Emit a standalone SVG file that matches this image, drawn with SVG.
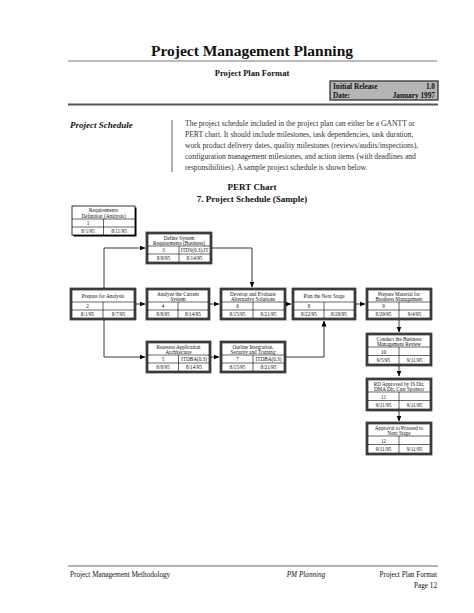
<svg xmlns="http://www.w3.org/2000/svg" width="474" height="613" viewBox="0 0 474 613">
<style>
text{font-family:"Liberation Serif","Times New Roman",serif;fill:#111}
.t{font-size:5.2px;text-anchor:middle}
.fo{fill:#555;stroke:#000;stroke-width:.6}
.fi{fill:#fff;stroke:#000;stroke-width:.6}
.ln{stroke:#000;stroke-width:.6}
.cn{fill:none;stroke:#222;stroke-width:.9}
.bd{font-size:7.6px;fill:#333}
</style>
<defs>
<marker id="ar" markerUnits="userSpaceOnUse" markerWidth="6" markerHeight="6" viewBox="0 0 6 6" refX="5.5" refY="3" orient="auto">
<path d="M0,0.5 L6,3 L0,5.5 Z" fill="#000"/>
</marker>
</defs>
<rect width="474" height="613" fill="#fff"/>
<g id="header">
<text x="252" y="56" font-size="15.5" font-weight="bold" text-anchor="middle">Project Management Planning</text>
<line x1="68" y1="61" x2="437" y2="61" stroke="#777" stroke-width="1"/>
<text x="252" y="76" font-size="8.5" font-weight="bold" text-anchor="middle">Project Plan Format</text>
<rect x="330" y="81" width="108" height="19" fill="#b5b5b5" stroke="#333" stroke-width="1.3"/>
<text x="333" y="89" font-size="7.3" font-weight="bold">Initial Release</text>
<text x="435" y="89" font-size="7.3" font-weight="bold" text-anchor="end">1.0</text>
<text x="333" y="98" font-size="7.3" font-weight="bold">Date:</text>
<text x="435" y="98" font-size="7.3" font-weight="bold" text-anchor="end">January 1997</text>
<line x1="68" y1="104.5" x2="438" y2="104.5" stroke="#555" stroke-width="2"/>
</g>
<g id="intro">
<text x="70" y="128" font-size="9" font-weight="bold" font-style="italic">Project Schedule</text>
<line x1="172" y1="120" x2="172" y2="172" stroke="#666" stroke-width="1"/>
<text class="bd" x="185" y="126">The project schedule included in the project plan can either be a GANTT or</text>
<text class="bd" x="185" y="137">PERT chart.  It should include milestones, task dependencies, task duration,</text>
<text class="bd" x="185" y="148">work product delivery dates, quality milestones (reviews/audits/inspections),</text>
<text class="bd" x="185" y="159">configuration management milestones, and action items (with deadlines and</text>
<text class="bd" x="185" y="170">responsibilities).  A sample project schedule is shown below.</text>
<text x="252" y="190" font-size="9" font-weight="bold" text-anchor="middle">PERT Chart</text>
<text x="252" y="202" font-size="9" font-weight="bold" text-anchor="middle">7. Project Schedule (Sample)</text>
</g>
<g id="connectors">
<path class="cn" d="M104,248 V357"/>
<path class="cn" d="M104,248 H145" marker-end="url(#ar)"/>
<path class="cn" d="M104,357 H145" marker-end="url(#ar)"/>
<path class="cn" d="M212,248 H252 V287" marker-end="url(#ar)"/>
<path class="cn" d="M136,304 H145" marker-end="url(#ar)"/>
<path class="cn" d="M210,304 H219" marker-end="url(#ar)"/>
<path class="cn" d="M286,304 H291" marker-end="url(#ar)"/>
<path class="cn" d="M356,304 H365" marker-end="url(#ar)"/>
<path class="cn" d="M399,320 V332" marker-end="url(#ar)"/>
<path class="cn" d="M211,357 H219" marker-end="url(#ar)"/>
<path class="cn" d="M286,357 H324 V321" marker-end="url(#ar)"/>
<path class="cn" d="M399,366 V376" marker-end="url(#ar)"/>
<path class="cn" d="M399,411 V421" marker-end="url(#ar)"/>
</g>
<g id="n1">
<rect x="73.5" y="207.5" width="63" height="29" fill="#000"/>
<rect x="72" y="206" width="63" height="29" fill="#fff" stroke="#000" stroke-width=".8"/>
<line class="ln" x1="72" y1="219" x2="135" y2="219"/>
<line class="ln" x1="72" y1="227" x2="135" y2="227"/>
<line class="ln" x1="103.5" y1="219" x2="103.5" y2="235"/>
<text class="t" x="103.5" y="212">Requirements</text>
<text class="t" x="103.5" y="217.5">Definition (Analysis)</text>
<text class="t" x="88" y="225">1</text>
<text class="t" x="88" y="233">8/1/95</text>
<text class="t" x="119" y="233">8/11/95</text>
</g>
<g id="n3">
<rect class="fo" x="146" y="232" width="66" height="32"/>
<rect class="fi" x="148" y="234" width="62" height="28"/>
<line class="ln" x1="148" y1="246" x2="210" y2="246"/>
<line class="ln" x1="148" y1="254" x2="210" y2="254"/>
<line class="ln" x1="179" y1="246" x2="179" y2="262"/>
<text class="t" x="179" y="239.5">Define System</text>
<text class="t" x="179" y="244.8">Requirements (Business)</text>
<text class="t" x="163.5" y="252">3</text>
<text class="t" x="194.5" y="252">ITDS(0.3),IT</text>
<text class="t" x="163.5" y="260">8/8/95</text>
<text class="t" x="194.5" y="260">8/14/95</text>
</g>
<g id="n2">
<rect class="fo" x="70" y="288" width="66" height="32"/>
<rect class="fi" x="72" y="290" width="62" height="28"/>
<line class="ln" x1="72" y1="302" x2="134" y2="302"/>
<line class="ln" x1="72" y1="310" x2="134" y2="310"/>
<line class="ln" x1="103" y1="302" x2="103" y2="318"/>
<text class="t" x="103" y="298">Prepare for Analysis</text>
<text class="t" x="87.5" y="308">2</text>
<text class="t" x="87.5" y="316">8/1/95</text>
<text class="t" x="118.5" y="316">8/7/95</text>
</g>
<g id="n4">
<rect class="fo" x="146" y="288" width="64" height="32"/>
<rect class="fi" x="148" y="290" width="60" height="28"/>
<line class="ln" x1="148" y1="302" x2="208" y2="302"/>
<line class="ln" x1="148" y1="310" x2="208" y2="310"/>
<line class="ln" x1="178" y1="302" x2="178" y2="318"/>
<text class="t" x="178" y="295.5">Analyze the Current</text>
<text class="t" x="178" y="300.8">System</text>
<text class="t" x="163" y="308">4</text>
<text class="t" x="163" y="316">8/8/95</text>
<text class="t" x="193" y="316">8/14/95</text>
</g>
<g id="n6">
<rect class="fo" x="220" y="288" width="66" height="32"/>
<rect class="fi" x="222" y="290" width="62" height="28"/>
<line class="ln" x1="222" y1="302" x2="284" y2="302"/>
<line class="ln" x1="222" y1="310" x2="284" y2="310"/>
<line class="ln" x1="253" y1="302" x2="253" y2="318"/>
<text class="t" x="253" y="295.5">Develop and Evaluate</text>
<text class="t" x="253" y="300.8">Alternative Solutions</text>
<text class="t" x="237.5" y="308">6</text>
<text class="t" x="237.5" y="316">8/15/95</text>
<text class="t" x="268.5" y="316">8/21/95</text>
</g>
<g id="n8">
<rect class="fo" x="292" y="288" width="64" height="32"/>
<rect class="fi" x="294" y="290" width="60" height="28"/>
<line class="ln" x1="294" y1="302" x2="354" y2="302"/>
<line class="ln" x1="294" y1="310" x2="354" y2="310"/>
<line class="ln" x1="324" y1="302" x2="324" y2="318"/>
<text class="t" x="324" y="298">Plan the Next Stage</text>
<text class="t" x="309" y="308">8</text>
<text class="t" x="309" y="316">8/22/95</text>
<text class="t" x="339" y="316">8/28/95</text>
</g>
<g id="n9">
<rect class="fo" x="366" y="288" width="66" height="32"/>
<rect class="fi" x="368" y="290" width="62" height="28"/>
<line class="ln" x1="368" y1="302" x2="430" y2="302"/>
<line class="ln" x1="368" y1="310" x2="430" y2="310"/>
<line class="ln" x1="399" y1="302" x2="399" y2="318"/>
<text class="t" x="399" y="295.5">Prepare Material for</text>
<text class="t" x="399" y="300.8">Business Management</text>
<text class="t" x="383.5" y="308">9</text>
<text class="t" x="383.5" y="316">8/29/95</text>
<text class="t" x="414.5" y="316">9/4/95</text>
</g>
<g id="n5">
<rect class="fo" x="146" y="341" width="65" height="32"/>
<rect class="fi" x="148" y="343" width="61" height="28"/>
<line class="ln" x1="148" y1="355" x2="209" y2="355"/>
<line class="ln" x1="148" y1="363" x2="209" y2="363"/>
<line class="ln" x1="178.5" y1="355" x2="178.5" y2="371"/>
<text class="t" x="178.5" y="348.5">Reassess Application</text>
<text class="t" x="178.5" y="353.8">Architecture</text>
<text class="t" x="163" y="361">5</text>
<text class="t" x="194" y="361">ITDBA(0.3)</text>
<text class="t" x="163" y="369">8/8/95</text>
<text class="t" x="194" y="369">8/14/95</text>
</g>
<g id="n7">
<rect class="fo" x="220" y="341" width="66" height="32"/>
<rect class="fi" x="222" y="343" width="62" height="28"/>
<line class="ln" x1="222" y1="355" x2="284" y2="355"/>
<line class="ln" x1="222" y1="363" x2="284" y2="363"/>
<line class="ln" x1="253" y1="355" x2="253" y2="371"/>
<text class="t" x="253" y="348.5">Outline Integration,</text>
<text class="t" x="253" y="353.8">Security and Training</text>
<text class="t" x="237.5" y="361">7</text>
<text class="t" x="268.5" y="361">ITDBA(0.3)</text>
<text class="t" x="237.5" y="369">8/15/95</text>
<text class="t" x="268.5" y="369">8/21/95</text>
</g>
<g id="n10">
<rect class="fo" x="366" y="333" width="66" height="33"/>
<rect class="fi" x="368" y="335" width="62" height="29"/>
<line class="ln" x1="368" y1="347" x2="430" y2="347"/>
<line class="ln" x1="368" y1="355.5" x2="430" y2="355.5"/>
<line class="ln" x1="399" y1="347" x2="399" y2="364"/>
<text class="t" x="399" y="340.5">Conduct the Business</text>
<text class="t" x="399" y="345.8">Management Review</text>
<text class="t" x="383.5" y="353.5">10</text>
<text class="t" x="383.5" y="362">9/5/95</text>
<text class="t" x="414.5" y="362">9/11/95</text>
</g>
<g id="n11">
<rect class="fo" x="366" y="378" width="66" height="33"/>
<rect class="fi" x="368" y="380" width="62" height="29"/>
<line class="ln" x1="368" y1="392" x2="430" y2="392"/>
<line class="ln" x1="368" y1="400.5" x2="430" y2="400.5"/>
<line class="ln" x1="399" y1="392" x2="399" y2="409"/>
<text class="t" x="399" y="385.5">RD Approved by IS Dir,</text>
<text class="t" x="399" y="390.8">DMA Dir, Cust Sponsor</text>
<text class="t" x="383.5" y="398.5">11</text>
<text class="t" x="383.5" y="407">9/11/95</text>
<text class="t" x="414.5" y="407">9/11/95</text>
</g>
<g id="n12">
<rect class="fo" x="366" y="422" width="66" height="33"/>
<rect class="fi" x="368" y="424" width="62" height="29"/>
<line class="ln" x1="368" y1="436" x2="430" y2="436"/>
<line class="ln" x1="368" y1="444.5" x2="430" y2="444.5"/>
<line class="ln" x1="399" y1="436" x2="399" y2="453"/>
<text class="t" x="399" y="429.5">Approval to Proceed to</text>
<text class="t" x="399" y="434.8">Next Stage</text>
<text class="t" x="383.5" y="442.5">12</text>
<text class="t" x="383.5" y="451">9/11/95</text>
<text class="t" x="414.5" y="451">9/11/95</text>
</g>
<g id="footer">
<line x1="68" y1="566" x2="438" y2="566" stroke="#666" stroke-width="1.2"/>
<text x="70" y="577" font-size="7.2">Project Management Methodology</text>
<text x="306" y="577" font-size="7.2" font-style="italic" text-anchor="middle">PM Planning</text>
<text x="437" y="577" font-size="7.2" text-anchor="end">Project Plan Format</text>
<text x="437" y="588" font-size="7.2" text-anchor="end">Page 12</text>
</g>
</svg>
